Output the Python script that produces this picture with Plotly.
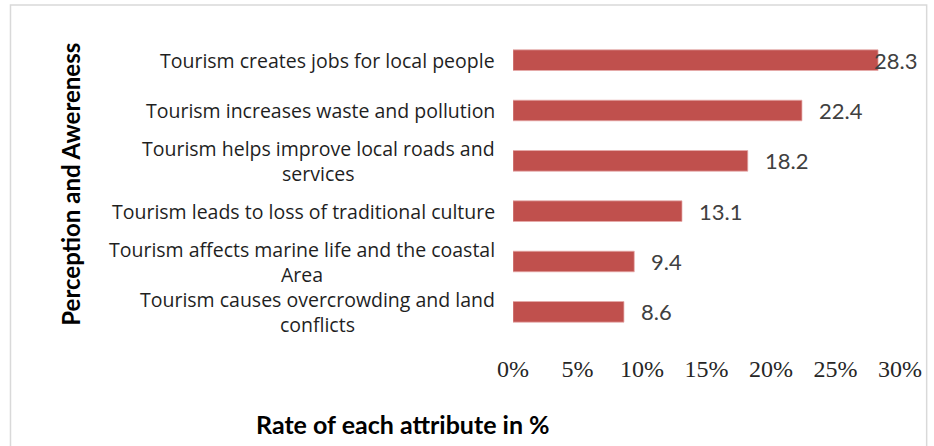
import plotly.graph_objects as go

categories = [
    "Tourism creates jobs for local people",
    "Tourism increases waste and pollution",
    "Tourism helps improve local roads and<br>services",
    "Tourism leads to loss of traditional culture",
    "Tourism affects marine life and the coastal<br>Area",
    "Tourism causes overcrowding and land<br>conflicts",
]
values = [28.3, 22.4, 18.2, 13.1, 9.4, 8.6]
tick_vals = [0, 5, 10, 15, 20, 25, 30]
tick_text = ["0%", "5%", "10%", "15%", "20%", "25%", "30%"]
y_title = "Perception and Awereness"
x_title = "Rate of each attribute in %"

W, H = 934, 446
ML, MR, MT, MB = 513, 29, 35, 109
PW, PH = W - ML - MR, H - MT - MB

BAR = "#C0504D"
LABEL_FONT = "Lato"

ids = list(range(len(categories)))

fig = go.Figure()
fig.add_trace(go.Bar(
    y=ids, x=values, orientation="h",
    marker=dict(color=BAR, line=dict(color="rgba(230,170,170,0.9)", width=0.8)),
    showlegend=False, hoverinfo="skip",
))

annotations = []
for i, (c, v) in enumerate(zip(categories, values)):
    annotations.append(dict(
        x=0, xref="paper", y=i, yref="y", text=c, showarrow=False,
        xanchor="right", yanchor="middle", align="center", xshift=-17,
        borderpad=0,
        font=dict(family="Open Sans", size=19.5, color="#1f1f1f"),
    ))
    annotations.append(dict(
        x=v, xref="x", y=i, yref="y", text=f"{v:.1f}", showarrow=False,
        xanchor="left", yanchor="middle", xshift=(-6 if v > 27 else 15),
        font=dict(family=LABEL_FONT, size=22, color="#404040"),
    ))

annotations.append(dict(
    x=(64 - ML) / PW, xref="paper", y=0.5, yref="paper", text=f"<b>{y_title}</b>",
    textangle=-90, showarrow=False, xanchor="center", yanchor="middle",
    yshift=(H - MB - 184) - PH / 2,
    font=dict(family=LABEL_FONT, size=24, color="#000000"),
))
annotations.append(dict(
    x=(402 - ML) / PW, xref="paper", y=(H - MB - 424) / PH, yref="paper",
    text=f"<b>{x_title}</b>", showarrow=False, xanchor="center", yanchor="middle",
    font=dict(family=LABEL_FONT, size=25, color="#000000"),
))

fig.update_layout(
    width=W, height=H,
    margin=dict(l=ML, r=MR, t=MT, b=MB),
    paper_bgcolor="white", plot_bgcolor="white",
    bargap=0.59,
    xaxis=dict(
        range=[0, 30], tickvals=tick_vals, ticktext=tick_text,
        showgrid=False, zeroline=False, showline=False,
        ticks="outside", ticklen=10, tickcolor="rgba(0,0,0,0)",
        tickfont=dict(family="Liberation Serif", size=24, color="#262626"),
    ),
    yaxis=dict(
        range=[len(categories) - 0.5, -0.5], showticklabels=False,
        showgrid=False, zeroline=False, showline=False, ticks="",
    ),
    annotations=annotations,
    shapes=[dict(
        type="rect", xref="paper", yref="paper",
        x0=(4 - ML) / PW, x1=(932 - ML) / PW,
        y0=(H - MB - 450) / PH, y1=(H - MB - 5) / PH,
        line=dict(color="#D9D9D9", width=1.5), fillcolor="rgba(0,0,0,0)",
        layer="below",
    )],
)

fig.write_html("out.html")
